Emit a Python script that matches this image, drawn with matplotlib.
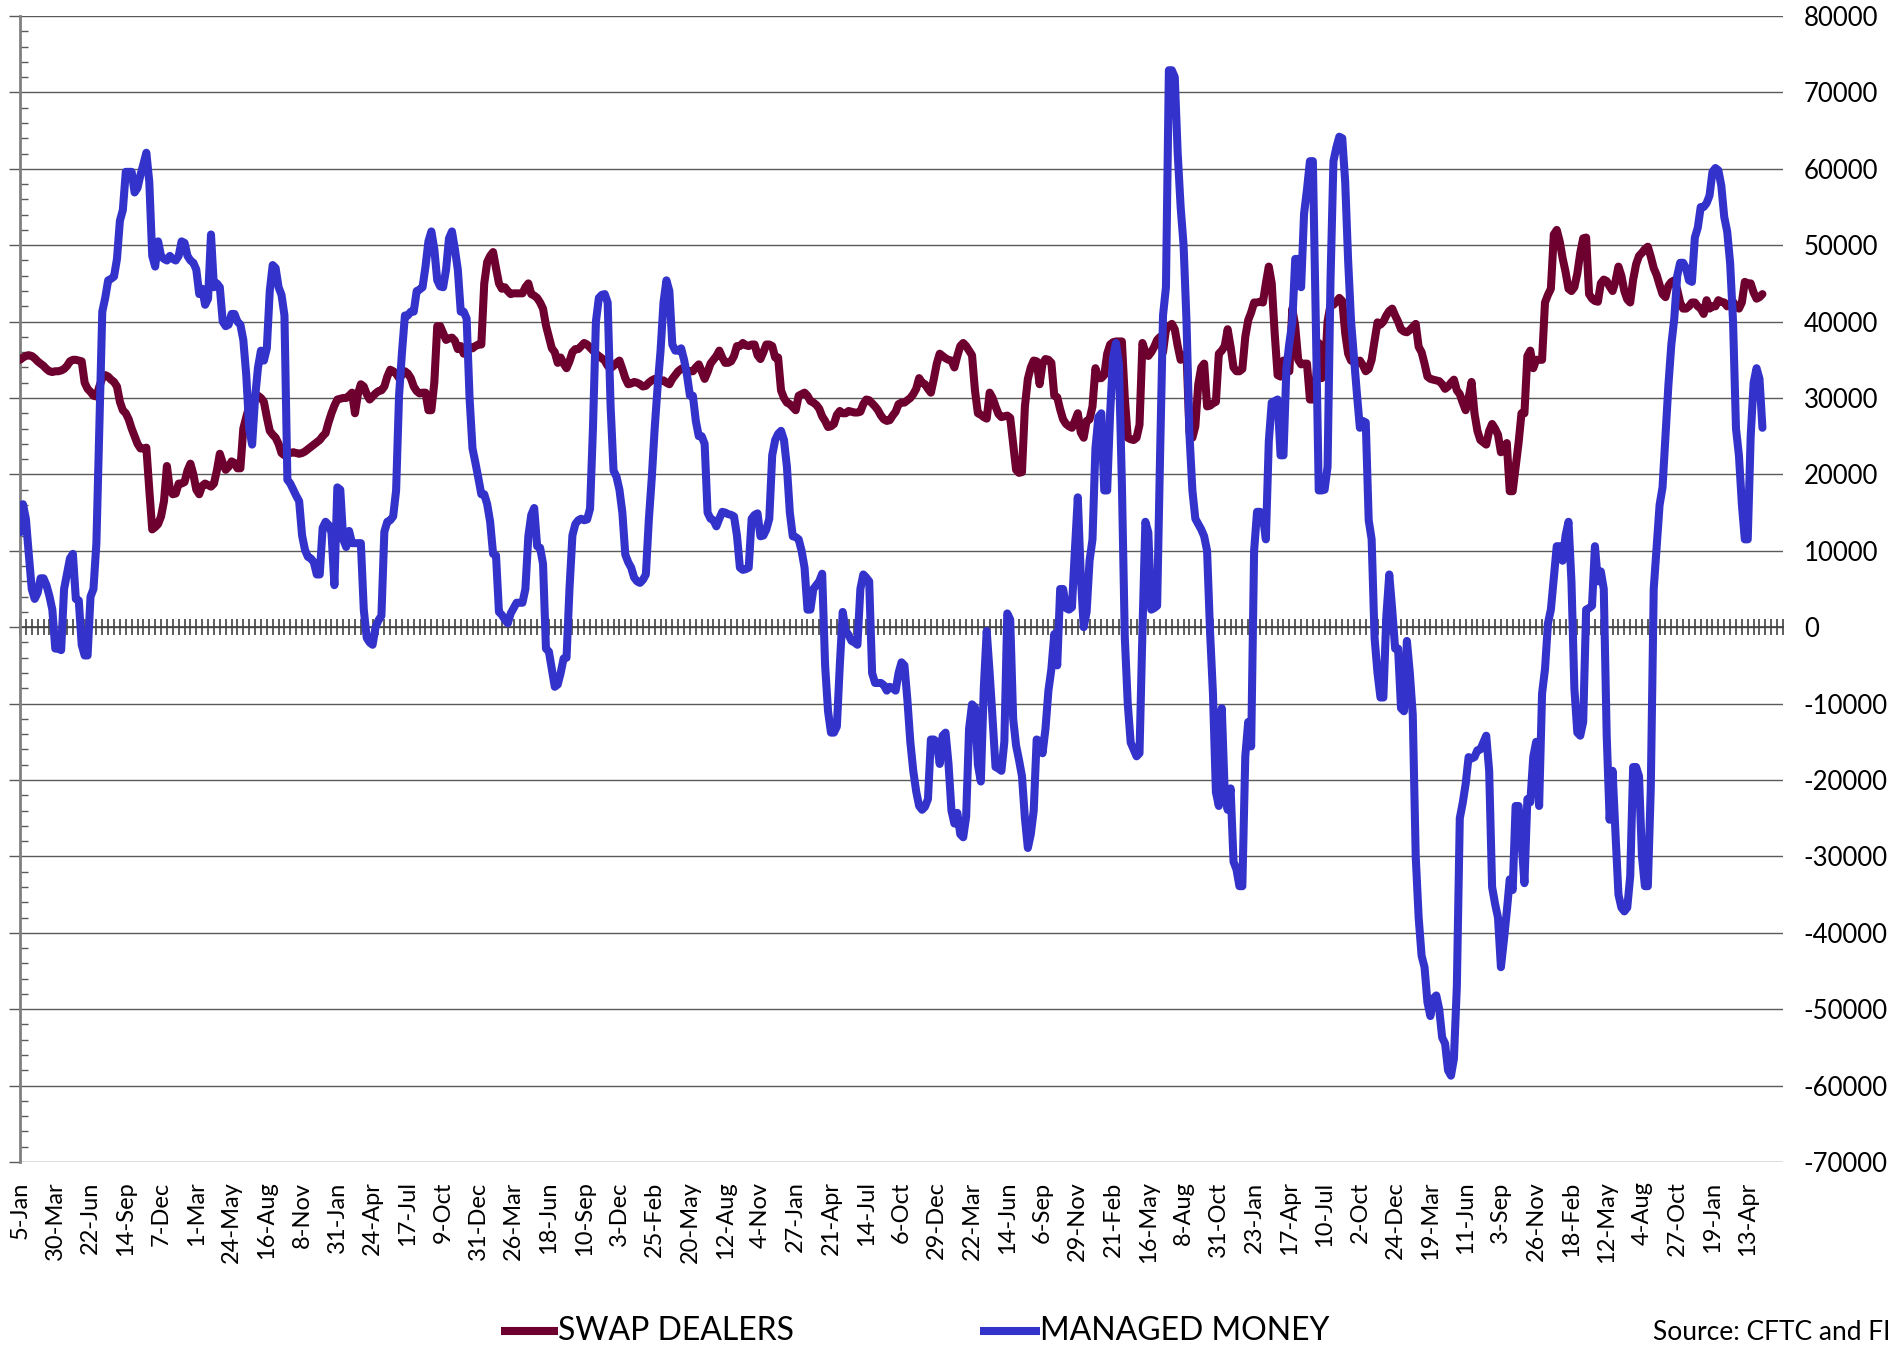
import numpy as np
import matplotlib
matplotlib.use("Agg")
import matplotlib.pyplot as plt
from matplotlib.ticker import MultipleLocator, FuncFormatter
from matplotlib.lines import Line2D

plt.rcParams['font.family'] = ['Lato', 'DejaVu Sans']
plt.rcParams['axes.unicode_minus'] = False

# x-axis category labels (every 12th weekly observation)
tick_labels = ['5-Jan', '30-Mar', '22-Jun', '14-Sep', '7-Dec', '1-Mar', '24-May', '16-Aug',
               '8-Nov', '31-Jan', '24-Apr', '17-Jul', '9-Oct', '31-Dec', '26-Mar', '18-Jun',
               '10-Sep', '3-Dec', '25-Feb', '20-May', '12-Aug', '4-Nov', '27-Jan', '21-Apr',
               '14-Jul', '6-Oct', '29-Dec', '22-Mar', '14-Jun', '6-Sep', '29-Nov', '21-Feb',
               '16-May', '8-Aug', '31-Oct', '23-Jan', '17-Apr', '10-Jul', '2-Oct', '24-Dec',
               '19-Mar', '11-Jun', '3-Sep', '26-Nov', '18-Feb', '12-May', '4-Aug', '27-Oct',
               '19-Jan', '13-Apr']
label_step = 12  # weeks between labels

# SWAP DEALERS net position, thousands of contracts (weekly)
swap_dealers_k = [
    35.0, 35.3, 35.5, 35.6, 35.5, 35.2, 34.8, 34.5, 34.2, 33.8,
    33.5, 33.4, 33.5, 33.5, 33.6, 33.8, 34.2, 34.8, 35.0, 35.0,
    34.9, 34.8, 32.0, 31.2, 30.8, 30.3, 30.2, 31.5, 32.6, 33.0,
    32.8, 32.4, 32.1, 31.5, 29.5, 28.4, 28.0, 27.2, 26.0, 25.0,
    24.0, 23.4, 23.4, 23.5, 18.0, 12.8, 13.1, 13.5, 14.5, 16.5,
    21.1, 18.0, 17.4, 17.5, 18.8, 18.8, 19.0, 20.5, 21.4, 20.0,
    18.0, 17.4, 18.5, 18.8, 18.6, 18.4, 18.8, 20.5, 22.7, 21.5,
    20.6, 21.0, 21.7, 21.5, 20.8, 20.8, 26.0, 27.5, 28.9, 29.5,
    30.0, 30.3, 30.0, 29.5, 27.5, 25.7, 25.2, 24.8, 24.0, 22.8,
    22.5, 22.6, 22.8, 22.9, 22.8, 22.7, 22.8, 23.0, 23.3, 23.6,
    23.9, 24.2, 24.5, 25.0, 25.4, 26.8, 28.0, 29.0, 29.8, 29.9,
    30.0, 30.0, 30.3, 30.7, 28.0, 30.5, 31.8, 31.5, 30.5, 29.8,
    30.2, 30.6, 30.9, 31.0, 31.5, 32.8, 33.7, 33.5, 33.2, 32.6,
    33.0, 33.5, 33.2, 32.6, 31.5, 30.9, 30.6, 30.7, 30.7, 28.4,
    28.4, 32.0, 39.4, 39.4, 38.5, 37.6, 37.8, 37.9, 37.5, 36.4,
    36.8, 35.8, 36.3, 36.7, 36.5, 36.8, 37.0, 37.0, 45.0, 47.8,
    48.6, 49.1, 47.0, 45.0, 44.3, 44.5, 44.0, 43.6, 43.7, 43.7,
    43.7, 43.7, 44.5, 45.0, 43.6, 43.4, 43.1, 42.5, 41.7, 39.5,
    38.0, 36.5, 36.0, 34.6, 35.3, 34.5, 33.9, 34.8, 36.0, 36.4,
    36.4, 36.8, 37.2, 37.0, 36.6, 36.2, 35.8, 35.5, 35.2, 34.9,
    34.2, 33.9, 34.2, 34.6, 34.9, 33.8, 32.6, 31.8, 31.9, 32.1,
    32.0, 31.8, 31.5, 31.6, 32.0, 32.3, 32.5, 32.4, 32.3, 32.3,
    32.0, 31.8, 32.5, 33.0, 33.5, 33.8, 34.0, 33.6, 33.5, 33.5,
    34.0, 34.4, 33.5, 32.5, 33.4, 34.5, 35.0, 35.5, 36.2, 35.3,
    34.6, 34.6, 34.8, 35.5, 36.8, 36.8, 37.2, 36.9, 36.8, 37.0,
    37.0, 35.6, 35.1, 36.0, 37.0, 37.0, 36.8, 35.3, 35.3, 31.0,
    30.0, 29.4, 29.2, 28.8, 28.4, 30.3, 30.5, 30.7, 30.3, 29.6,
    29.4, 29.1, 28.6, 27.6, 27.0, 26.2, 26.3, 26.6, 27.8, 28.3,
    28.0, 28.0, 28.3, 28.2, 28.1, 28.1, 28.2, 29.2, 29.8, 29.7,
    29.3, 28.9, 28.4, 27.7, 27.2, 27.0, 27.1, 27.7, 28.2, 29.2,
    29.4, 29.4, 29.7, 30.0, 30.5, 31.2, 32.6, 32.0, 31.8, 31.2,
    30.7, 32.5, 34.5, 35.8, 35.5, 35.2, 35.0, 34.9, 34.0, 35.5,
    36.8, 37.2, 36.8, 36.2, 35.6, 31.0, 28.0, 27.8, 27.5, 27.3,
    30.7, 30.0, 28.9, 27.9, 27.5, 27.6, 27.7, 27.4, 24.0, 20.6,
    20.2, 20.3, 28.9, 32.5, 34.0, 34.9, 34.8, 31.8, 34.5, 35.1,
    35.0, 34.6, 30.3, 30.1, 28.5, 27.2, 26.6, 26.3, 26.1, 27.0,
    28.0, 25.5, 24.8, 27.0, 27.2, 28.9, 33.9, 32.6, 32.6, 33.0,
    35.8, 37.0, 37.3, 37.4, 37.4, 37.4, 30.0, 24.8, 24.6, 24.5,
    24.8, 26.5, 37.2, 36.0, 35.5, 36.0, 36.7, 37.6, 38.0, 36.0,
    39.0, 39.4, 39.7, 39.0, 36.8, 35.0, 35.3, 35.8, 25.5, 24.8,
    26.3, 31.8, 34.0, 34.5, 28.9, 29.0, 29.3, 29.5, 35.8, 36.2,
    36.8, 39.0, 36.7, 34.0, 33.5, 33.5, 33.8, 38.0, 40.2, 41.2,
    42.5, 42.5, 42.6, 42.5, 45.0, 47.2, 45.0, 38.5, 33.0, 32.8,
    34.9, 34.5, 33.5, 41.7, 39.4, 35.0, 34.4, 34.5, 34.5, 29.8,
    29.8, 32.0, 37.2, 32.6, 33.0, 40.0, 42.2, 42.2, 42.6, 43.1,
    42.7, 38.5, 35.8, 34.9, 34.7, 34.5, 34.9, 34.3, 33.5, 33.8,
    35.0, 37.5, 39.9, 39.6, 40.0, 40.8, 41.4, 41.7, 40.8, 40.0,
    39.0, 38.7, 38.6, 38.9, 39.3, 39.7, 36.7, 36.0, 34.5, 32.8,
    32.5, 32.4, 32.3, 32.2, 31.8, 31.2, 31.5, 32.0, 32.4, 31.0,
    30.5, 29.4, 28.4, 30.0, 32.1, 28.0, 25.7, 24.5, 24.2, 23.9,
    25.7, 26.6, 26.0, 25.2, 22.9, 23.2, 24.1, 17.8, 17.8, 21.0,
    24.1, 28.0, 28.0, 35.5, 36.2, 33.9, 35.0, 35.0, 35.0, 42.5,
    43.5, 44.3, 51.4, 52.0, 50.5, 48.3, 46.5, 44.3, 44.0, 44.5,
    46.3, 49.0, 50.9, 51.0, 43.6, 43.0, 42.7, 42.6, 45.0, 45.5,
    45.3, 44.6, 44.0, 45.3, 47.2, 46.0, 44.0, 42.9, 42.5, 45.5,
    47.5, 48.6, 49.0, 49.5, 49.8, 48.5, 47.0, 46.1, 44.8, 43.6,
    43.2, 44.7, 45.2, 45.4, 44.2, 42.5, 41.7, 41.7, 42.0, 42.5,
    42.5, 42.0, 41.7, 41.0, 42.8, 41.7, 42.0, 42.0, 42.8, 42.6,
    42.5, 42.0, 42.3, 42.6, 42.0, 41.7, 42.5, 45.2, 45.0, 45.0,
    43.8, 43.0, 43.2, 43.6,
]

# MANAGED MONEY net position, thousands of contracts (weekly)
managed_money_k = [
    12.4, 16.1, 14.2, 9.5, 5.0, 3.7, 4.5, 6.4, 6.4, 5.5,
    4.1, 2.3, -2.8, -2.8, -3.0, 5.0, 7.0, 9.0, 9.6, 3.7,
    3.5, -2.3, -3.7, -3.7, 4.0, 5.0, 11.0, 26.0, 41.3, 43.1,
    45.4, 45.6, 45.9, 48.2, 53.2, 54.6, 59.6, 59.6, 59.6, 56.9,
    57.5, 59.2, 60.6, 62.1, 58.3, 48.6, 47.2, 50.5, 48.6, 48.2,
    48.0, 48.6, 48.2, 48.0, 48.6, 50.5, 50.3, 48.6, 48.0, 47.7,
    46.8, 43.6, 44.3, 42.2, 43.0, 51.4, 44.5, 45.0, 44.5, 40.0,
    39.4, 39.6, 41.0, 41.0, 40.0, 39.6, 37.6, 33.0, 26.0, 23.9,
    30.0, 34.0, 36.2, 34.9, 36.5, 44.0, 47.4, 47.0, 44.5, 43.5,
    40.8, 19.3, 18.8, 18.0, 17.2, 16.5, 12.0, 10.1, 9.2, 9.0,
    8.5, 6.9, 6.9, 13.0, 13.8, 13.4, 12.4, 5.5, 18.3, 18.0,
    11.5, 10.5, 12.6, 11.0, 11.0, 11.0, 11.0, 2.3, -1.4, -2.0,
    -2.3, 0.0, 0.9, 1.5, 12.5, 13.8, 14.0, 14.5, 17.9, 30.3,
    36.0, 40.8, 40.8, 41.3, 41.3, 44.0, 44.2, 44.5, 47.2, 50.5,
    51.8, 49.5, 45.4, 44.6, 44.5, 46.8, 50.9, 51.8, 49.5, 46.8,
    41.3, 41.3, 40.4, 30.0, 23.4, 21.5, 19.5, 17.4, 17.4, 16.1,
    13.8, 9.6, 9.4, 2.0, 1.6, 1.0, 0.5, 1.8, 2.5, 3.2,
    3.2, 3.2, 5.0, 11.9, 14.7, 15.6, 10.6, 10.4, 8.3, -2.8,
    -3.2, -5.5, -7.8, -7.5, -6.0, -4.1, -4.0, 5.0, 12.0, 13.5,
    14.0, 14.2, 14.0, 14.1, 15.5, 26.1, 40.0, 43.1, 43.5, 43.6,
    42.5, 28.9, 20.5, 19.7, 18.0, 15.0, 9.5, 8.5, 7.8, 6.5,
    6.0, 5.8, 6.2, 6.9, 14.0, 19.5, 26.0, 31.5, 36.2, 42.5,
    45.4, 44.0, 37.0, 36.2, 36.2, 36.5, 35.0, 33.0, 30.3, 30.3,
    27.0, 25.0, 25.0, 24.0, 15.0, 14.2, 14.0, 13.2, 14.2, 15.1,
    15.0, 14.8, 14.7, 14.5, 12.0, 7.8, 7.5, 7.6, 7.8, 14.2,
    14.7, 14.9, 11.9, 12.0, 12.8, 14.2, 22.5, 24.5, 25.3, 25.7,
    24.5, 21.0, 15.0, 11.9, 11.8, 11.5, 10.0, 7.8, 2.3, 2.3,
    5.0, 5.5, 6.0, 7.0, -5.0, -11.0, -13.8, -13.8, -13.0, -5.0,
    2.0, -0.5, -1.0, -1.8, -2.0, -2.3, 5.0, 6.9, 6.5, 6.0,
    -6.0, -7.3, -7.3, -7.3, -7.6, -8.3, -7.8, -8.0, -8.3, -6.0,
    -4.6, -5.0, -9.5, -15.0, -18.8, -21.5, -23.4, -23.9, -23.5, -22.5,
    -14.7, -14.7, -15.0, -17.9, -14.2, -13.8, -17.9, -24.0, -25.7, -24.3,
    -27.1, -27.5, -24.8, -13.3, -10.1, -10.5, -18.0, -20.2, -8.0, -0.5,
    -6.0, -12.0, -18.3, -18.5, -18.8, -15.0, 1.8, 1.0, -12.0, -15.5,
    -17.4, -19.5, -25.0, -28.9, -27.1, -24.0, -14.7, -14.9, -16.5, -13.3,
    -8.3, -5.5, -0.9, -5.0, 5.0, 5.0, 2.5, 2.3, 2.6, 10.0,
    17.0, 6.9, 0.0, 2.0, 8.7, 11.5, 23.4, 27.5, 28.0, 17.9,
    17.9, 28.0, 35.3, 37.2, 34.4, 18.8, -1.4, -10.0, -15.1, -16.0,
    -16.9, -16.5, -0.5, 13.8, 12.4, 2.3, 2.5, 2.8, 22.5, 40.8,
    44.5, 72.9, 72.9, 72.0, 62.0, 55.0, 50.0, 40.0, 25.2, 17.9,
    14.2, 13.5, 12.8, 11.9, 10.0, -0.5, -8.7, -21.6, -23.4, -10.6,
    -21.6, -23.9, -21.1, -30.7, -31.7, -33.9, -33.9, -16.9, -12.4, -15.6,
    10.0, 15.1, 15.1, 14.5, 11.5, 24.3, 29.4, 29.6, 29.8, 22.5,
    22.5, 33.9, 37.2, 39.9, 48.2, 48.2, 44.5, 54.1, 57.3, 61.0,
    61.0, 40.0, 17.9, 17.9, 18.0, 21.0, 45.4, 61.0, 62.8, 64.2,
    64.0, 58.3, 48.0, 40.0, 35.3, 30.5, 26.1, 27.0, 26.8, 14.0,
    11.5, -1.4, -6.0, -9.2, -9.2, 1.4, 6.9, 2.3, -2.8, -2.8,
    -10.6, -11.0, -1.8, -6.0, -11.5, -30.0, -38.0, -43.0, -44.5, -49.1,
    -50.9, -48.6, -48.2, -50.0, -53.7, -54.5, -58.0, -58.7, -56.5, -47.0,
    -25.0, -23.0, -20.5, -17.0, -17.2, -17.0, -16.1, -16.0, -15.1, -14.2,
    -18.8, -34.0, -36.2, -38.0, -44.5, -41.0, -37.2, -33.0, -34.4, -23.4,
    -23.4, -28.0, -33.5, -22.5, -22.9, -17.0, -15.0, -23.4, -8.7, -5.5,
    0.5, 2.3, 6.5, 10.6, 10.6, 8.7, 12.0, 13.8, 6.0, -8.0,
    -13.8, -14.2, -12.4, 2.3, 2.5, 2.8, 10.6, 6.0, 7.3, 5.0,
    -14.2, -25.2, -18.8, -27.1, -35.0, -36.7, -37.2, -36.7, -32.6, -18.3,
    -18.3, -19.5, -30.0, -33.9, -33.9, -21.1, 5.0, 10.5, 16.0, 18.3,
    25.0, 31.7, 37.0, 40.4, 46.0, 47.7, 47.7, 47.0, 45.4, 45.2,
    51.0, 52.3, 55.0, 55.0, 55.5, 56.5, 59.6, 60.1, 59.8, 57.8,
    53.7, 51.8, 47.7, 40.0, 26.0, 22.5, 16.1, 11.5, 11.5, 25.0,
    32.0, 33.9, 32.5, 26.1,
]

series_names = ['SWAP DEALERS', 'MANAGED MONEY']
series_colors = ['#6E0030', '#3333CC']
source_text = 'Source: CFTC and FI'

swap = np.array(swap_dealers_k) * 1000
mm = np.array(managed_money_k) * 1000

W, H = 1902, 1348
fig = plt.figure(figsize=(W / 100, H / 100), dpi=100)
ax = fig.add_axes([20 / W, 1 - 1162 / H, (1783 - 20) / W, (1162 - 16) / H])

lw = 5.8
ax.plot(np.arange(len(swap)), swap, color=series_colors[0], lw=lw,
        solid_joinstyle='round', solid_capstyle='round', zorder=3)
ax.plot(np.arange(len(mm)), mm, color=series_colors[1], lw=lw,
        solid_joinstyle='round', solid_capstyle='round', zorder=4)

ax.set_xlim(0, 600)
ax.set_ylim(-70000, 80000)

# horizontal grid
ax.set_yticks(np.arange(-70000, 80001, 10000))
ax.yaxis.set_minor_locator(MultipleLocator(2000))
ax.yaxis.grid(True, which='major', color='#5a5a5a', lw=1.0, zorder=1)
ax.tick_params(axis='y', which='major', direction='out', length=8, width=1,
               color='#5a5a5a', labelleft=False)
ax.tick_params(axis='y', which='minor', direction='in', length=6, width=1,
               color='#5a5a5a')

for s in ['top', 'right']:
    ax.spines[s].set_visible(False)
ax.spines['left'].set_color('#808080')
ax.spines['left'].set_linewidth(2)
ax.spines['bottom'].set_position(('data', 0))
ax.spines['bottom'].set_color('#404040')
ax.spines['bottom'].set_linewidth(1.2)
ax.spines['bottom'].set_zorder(2)

# x axis ticks along the zero line
ax.xaxis.set_major_locator(MultipleLocator(2))
ax.tick_params(axis='x', which='major', direction='inout', length=11, width=1.1,
               color='#303030', labelbottom=False)

# x category labels at the bottom
secx = ax.secondary_xaxis('bottom')
secx.set_xticks(np.arange(len(tick_labels)) * label_step)
secx.set_xticklabels(tick_labels, rotation=90, fontsize=17)
secx.tick_params(length=0, pad=14)
secx.spines['bottom'].set_visible(False)

# value labels on the right
secy = ax.secondary_yaxis('right')
secy.set_yticks(np.arange(-70000, 80001, 10000))
secy.yaxis.set_major_formatter(FuncFormatter(lambda v, p: f'{int(round(v))}'))
secy.tick_params(length=0, pad=15, labelsize=18.5)
secy.spines['right'].set_visible(False)

# legend at the bottom
ly = 1 - 1331 / H
legend_pos = [(501, 558), (980, 1040)]
for (x0, x1), name, col in zip(legend_pos, series_names, series_colors):
    fig.add_artist(Line2D([x0 / W, x1 / W], [ly, ly], transform=fig.transFigure,
                          color=col, lw=lw, solid_capstyle='butt'))
    fig.text(x1 / W, ly, name, fontsize=23, va='center', ha='left', color='black')

fig.text(1890 / W, 1 - 1332 / H, source_text, fontsize=19, va='center', ha='right')

fig.savefig('out.png', dpi=100)
